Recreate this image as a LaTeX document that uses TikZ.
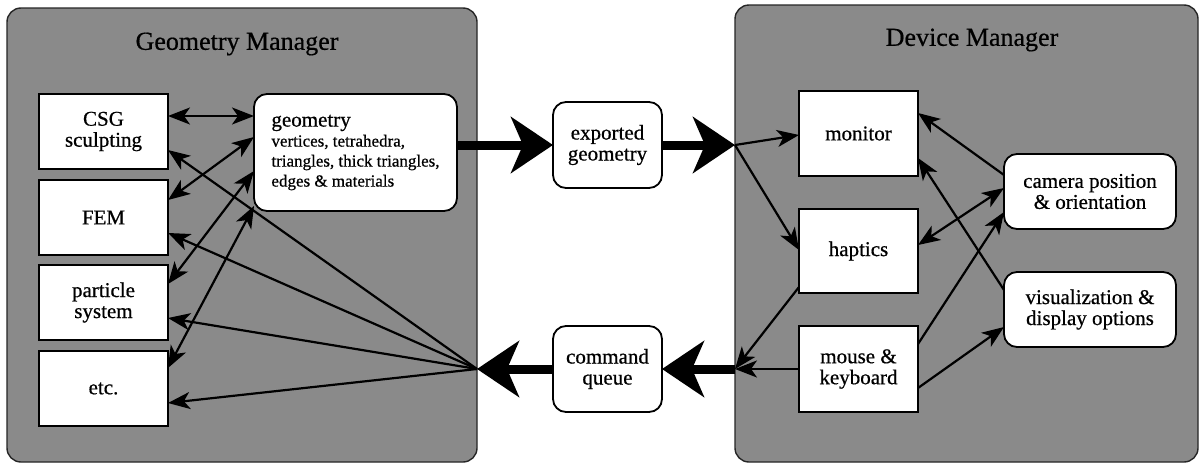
\documentclass[tikz,border=0pt]{standalone}
\usepackage{fontspec}
\setmainfont{Liberation Serif}[FakeBold=0.6]
\usetikzlibrary{arrows.meta,calc}
\definecolor{panelgray}{RGB}{138,138,138}
\begin{document}
\begin{tikzpicture}[x=1pt,y=-1pt,
  panel/.style={draw=black!85,line width=1.4pt,fill=panelgray,rounded corners=14pt,inner sep=0pt,outer sep=0pt},
  sqbox/.style={draw=black,line width=1.8pt,fill=white,inner sep=2pt,outer sep=0pt,align=center,font=\rmfamily\fontsize{21}{21}\selectfont},
  rbox/.style={sqbox,rounded corners=13pt},
  ttl/.style={font=\rmfamily\fontsize{26}{28}\selectfont},
  tip/.style={},
  thinarr/.style={line width=2.2pt,-{Stealth[length=22pt,width=17pt,inset=6pt]}},
  dblarr/.style={line width=2.2pt,{Stealth[length=22pt,width=17pt,inset=6pt]}-{Stealth[length=22pt,width=17pt,inset=6pt]}},
  thickarr/.style={line width=9pt,-{Stealth[length=42pt,width=56pt,inset=12pt]}}]
\useasboundingbox (0,0) rectangle (1204,466);
\fill[white] (0,0) rectangle (1204,466);

% panels
\node[panel,minimum width=470pt,minimum height=454pt] (gm) at (242,235) {};
\node[panel,minimum width=463pt,minimum height=457pt] (dm) at (966.5,233.5) {};
\node[ttl] (gmt) at (237,44) {Geometry Manager};
\node[ttl] (dmt) at (972,40) {Device Manager};

% left boxes
\node[sqbox,minimum width=129pt,minimum height=75pt] (csg) at (103.5,131.5) {CSG\\sculpting};
\node[sqbox,minimum width=129pt,minimum height=75pt] (fem) at (103.5,217.5) {FEM};
\node[sqbox,minimum width=129pt,minimum height=75pt] (par) at (103.5,302.5) {particle\\system};
\node[sqbox,minimum width=129pt,minimum height=75pt] (etc) at (103.5,388.5) {etc.};
\node[rbox,align=left,minimum width=203pt,minimum height=117pt,font=\rmfamily\fontsize{17}{20}\selectfont] (geo) at (355.5,152.5)
  {{\fontsize{21}{20}\selectfont geometry}\\vertices, tetrahedra,\\triangles, thick triangles,\\edges \& materials};

% middle boxes
\node[rbox,minimum width=109pt,minimum height=86pt] (exp) at (607.5,145) {exported\\geometry};
\node[rbox,minimum width=109pt,minimum height=86pt] (cmd) at (607.5,369) {command\\queue};

% right boxes
\node[sqbox,minimum width=119pt,minimum height=85pt] (mon) at (858.5,133.5) {monitor};
\node[sqbox,minimum width=119pt,minimum height=84pt] (hap) at (858.5,251) {haptics};
\node[sqbox,minimum width=119pt,minimum height=86pt] (mk) at (858.5,369) {mouse \&\\keyboard};
\node[rbox,minimum width=172pt,minimum height=75pt] (cam) at (1090,191.5) {camera position\\\& orientation};
\node[rbox,minimum width=172pt,minimum height=75pt] (vis) at (1090,309.5) {visualization \&\\display options};

% junction points on panel edges
\coordinate (pin) at (735,145);
\coordinate (pout) at (735,369);
\coordinate (fan) at (477,369);

% thick arrows
\draw[thickarr] ($(geo.north east)+(0,51)$) -- (exp.west);
\draw[thickarr] (exp.east) -- (pin);
\draw[thickarr] (pout) -- (cmd.east);
\draw[thickarr] (cmd.west) -- (fan);

% right panel thin arrows
\draw[thinarr] (pin) -- ($(mon.north west)+(0,44)$);
\draw[thinarr] (pin) -- ($(hap.north west)+(0,41)$);
\draw[thinarr] ($(hap.north west)+(0,78)$) -- (pout);
\draw[thinarr] (mk.west) -- (pout);
\draw[thinarr] ($(cam.north west)+(0,21)$) -- ($(mon.north east)+(0,22)$);
\draw[thinarr] ($(vis.north west)+(0,18)$) -- ($(mon.north east)+(0,67)$);
\draw[dblarr] ($(hap.north east)+(0,36)$) -- ($(cam.north west)+(0,34)$);
\draw[thinarr] ($(mk.north east)+(0,18)$) -- ($(cam.north west)+(0,58)$);
\draw[thinarr] ($(mk.north east)+(0,62)$) -- ($(vis.north west)+(0,55)$);

% left panel thin arrows
\draw[thinarr] (fan) -- ($(csg.north east)+(0,56)$);
\draw[thinarr] (fan) -- ($(fem.north east)+(0,53)$);
\draw[thinarr] (fan) -- ($(par.north east)+(0,53)$);
\draw[thinarr] (fan) -- ($(etc.north east)+(0,52)$);
\draw[dblarr] ($(csg.north east)+(0,22)$) -- ($(geo.north west)+(0,22)$);
\draw[dblarr] ($(fem.north east)+(0,20)$) -- ($(geo.north west)+(0,43)$);
\draw[dblarr] ($(par.north east)+(0,19)$) -- ($(geo.north west)+(0,77)$);
\draw[dblarr] ($(etc.north east)+(0,17)$) -- ($(geo.north west)+(0,112)$);
\end{tikzpicture}
\end{document}
